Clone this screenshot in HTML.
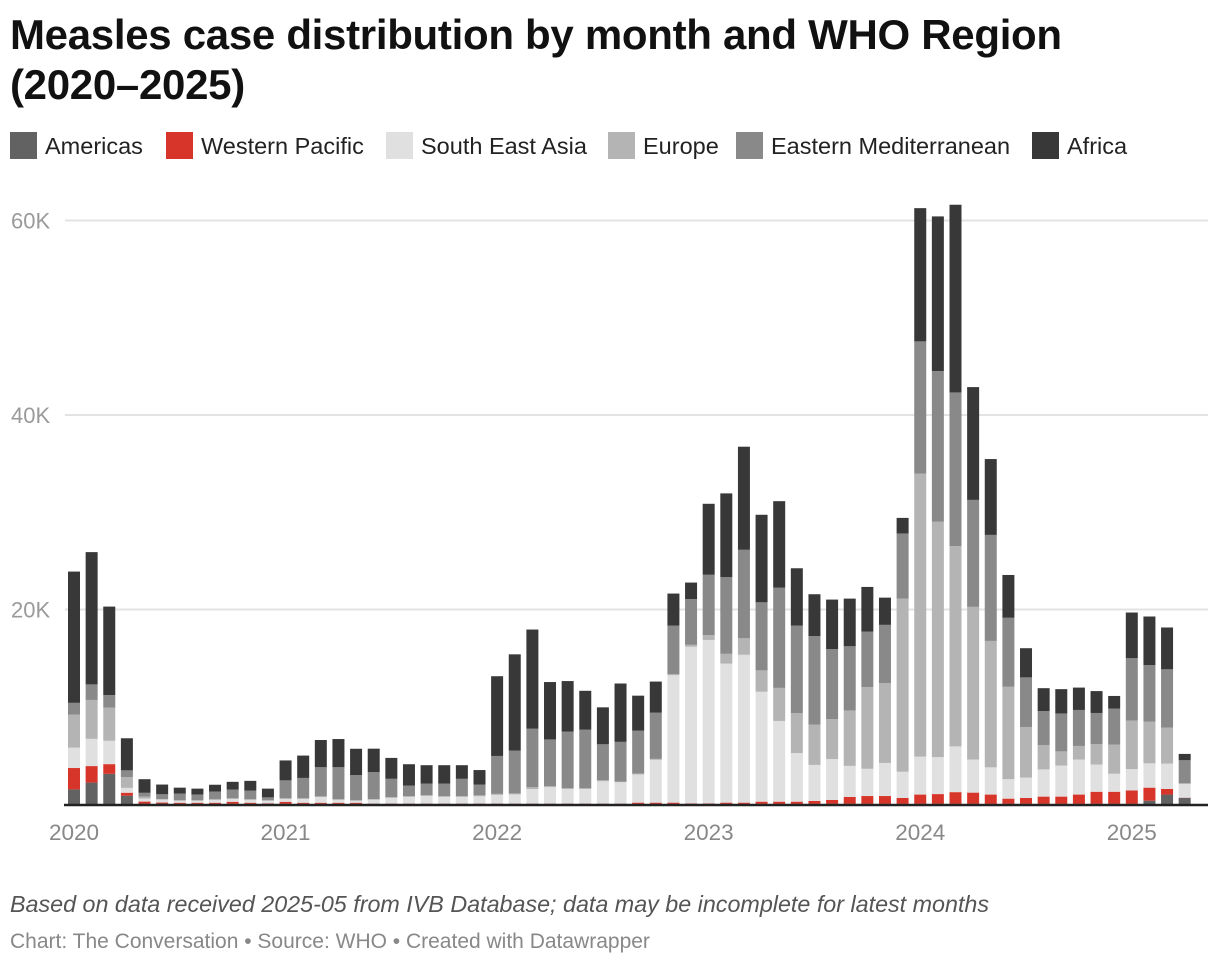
<!DOCTYPE html>
<html><head><meta charset="utf-8"><style>
body{margin:0;background:#fff;font-family:"Liberation Sans",sans-serif;width:1220px;height:966px;overflow:hidden;position:relative}
h1{position:absolute;left:10px;top:10px;margin:0;font-size:42px;line-height:50px;font-weight:bold;color:#111;width:1210px;letter-spacing:-0.3px;white-space:nowrap}
.legend{position:absolute;top:133px;left:10px;height:30px;font-size:23.5px;color:#222}
.li{position:absolute;top:0;white-space:nowrap}
.sw{display:inline-block;width:27px;height:27px;vertical-align:middle;margin-right:8px;position:relative;top:-2px}
.note{position:absolute;left:10px;top:891px;font-size:23.3px;font-style:italic;color:#555}
.cred{position:absolute;left:10px;top:930px;font-size:21px;color:#888}
svg{position:absolute;left:0;top:0}
</style></head><body>
<h1>Measles case distribution by month and WHO Region<br>(2020–2025)</h1>
<div class="legend">
<span class="li" style="left:0"><span class="sw" style="background:#626262"></span>Americas</span>
<span class="li" style="left:156px"><span class="sw" style="background:#d8352a"></span>Western Pacific</span>
<span class="li" style="left:376px"><span class="sw" style="background:#e0e0e0"></span>South East Asia</span>
<span class="li" style="left:598px"><span class="sw" style="background:#b4b4b4"></span>Europe</span>
<span class="li" style="left:726px"><span class="sw" style="background:#898989"></span>Eastern Mediterranean</span>
<span class="li" style="left:1022px"><span class="sw" style="background:#383838"></span>Africa</span>
</div>
<svg id="chart" width="1220" height="966"></svg>
<div class="note">Based on data received 2025-05 from IVB Database; data may be incomplete for latest months</div>
<div class="cred">Chart: The Conversation • Source: WHO • Created with Datawrapper</div>
<script>
const yTicks=[0,20,40,60];
const yTickLabels=["","20K","40K","60K"];
const xLabels=["2020","2021","2022","2023","2024","2025"];
const seriesNames=["Americas","Western Pacific","South East Asia","Europe","Eastern Mediterranean","Africa"];
const americas=[1.5,2.2,3.1,0.86,0.05,0.05,0.03,0.03,0.03,0.03,0.03,0.03, .03,.03,.03,.03,.03,.02,.02,.02,.02,.02,.02,.02, .02,.02,.02,.02,.02,.02,.02,.02,.02,.02,.02,.02, .02,.02,.02,.02,.02,.02,.02,.02,.02,.02,.02,.02, .02,.02,.02,.02,.02,.02,.02,.02,.02,.02,.02,.02, .02,.34,.97,.63];
const westernPacific=[2.2,1.7,1.0,0.3,0.2,0.1,0.1,0.1,0.1,0.2,0.1,0.05, .2,.1,.1,.1,.1,.02,.02,.02,.02,.02,.02,.02, .02,.02,.02,.02,.02,.02,.02,.02,.12,.12,.12,.05, .05,.12,.12,.22,.22,.22,.3,.4,.7,.8,.8,.6, .95,1.0,1.2,1.15,.95,.53,.6,.74,.74,.95,1.24,1.24, 1.37,1.34,.58,.02];
const southEastAsia=[2.1,2.8,2.4,0.5,0.3,0.3,0.2,0.2,0.3,0.3,0.3,0.25, .3,.4,.6,.3,.2,.4,.6,.7,.8,.7,.7,.75, .9,.95,1.5,1.7,1.5,1.5,2.3,2.2,2.9,4.4,13.1,16.1, 16.8,14.3,15.2,11.3,8.3,5.0,3.7,4.2,3.2,2.8,3.4,2.7, 3.9,3.8,4.7,3.4,2.8,2.0,2.1,2.8,3.2,3.6,2.8,1.85, 2.2,2.5,2.6,1.4];
const europe=[3.4,4.0,3.4,1.1,0.2,0.05,0.05,0.05,0.05,0.05,0.05,0.05, .05,.05,.05,.05,.05,.05,.05,.05,.05,.05,.05,.1, .1,.1,.2,.1,.1,.1,.1,.05,.1,.1,.1,.2, .5,1.0,1.7,2.2,3.4,4.1,4.15,4.1,5.7,8.4,8.2,17.8, 29.1,24.2,20.6,15.7,13.0,9.5,5.2,2.5,1.45,1.4,2.1,3.0, 5.0,4.3,3.7,0.1];
const easternMed=[1.2,1.6,1.3,0.7,0.4,0.5,0.7,0.6,0.8,0.9,0.9,0.3, 1.85,2.1,3.0,3.3,2.6,2.8,1.9,1.1,1.2,1.3,1.8,1.1, 3.9,4.4,6.0,4.8,5.8,6.0,3.7,4.1,4.4,4.75,5.0,4.7, 6.2,7.9,9.1,7.0,10.3,9.0,9.1,7.2,6.6,5.7,6.0,6.7, 13.6,15.5,15.8,11.0,10.9,7.1,5.1,3.5,3.9,3.7,3.2,3.7, 6.4,5.8,6.0,2.35];
const africa=[13.5,13.6,9.1,3.3,1.4,1.0,0.6,0.6,0.7,0.8,1.0,0.9, 2.05,2.3,2.8,2.9,2.7,2.4,2.15,2.2,1.9,1.9,1.4,1.5, 8.2,9.9,10.2,5.9,5.2,4.0,3.8,6.0,3.6,3.2,3.3,1.7, 7.3,8.6,10.6,9.0,8.9,5.9,4.3,5.1,4.9,4.6,2.8,1.6, 13.7,15.9,19.3,11.6,7.8,4.4,3.0,2.35,2.5,2.3,2.25,1.3, 4.7,5.0,4.3,0.65];
const series=[americas,westernPacific,southEastAsia,europe,easternMed,africa];
const colors=["#626262","#d8352a","#e0e0e0","#b4b4b4","#898989","#383838"];
const svg=document.getElementById('chart');
const NS="http://www.w3.org/2000/svg";
const X0=74, STEP=17.63, BW=12, Y0=804, PXK=9.725;
const xPos=i=>X0+i*STEP;
const yPos=v=>Y0-v*PXK;
function mk(t,a){const e=document.createElementNS(NS,t);for(const k in a)e.setAttribute(k,a[k]);svg.appendChild(e);return e;}
yTicks.forEach((t,i)=>{
  if(t>0){const l=mk('line',{x1:65,x2:1208,y1:yPos(t),y2:yPos(t),stroke:'#e3e3e3','stroke-width':2});
  
  
  const tx=mk('text',{x:11,y:yPos(t)+8,'font-size':22,fill:'#9a9a9a','font-family':'Liberation Sans, sans-serif'});tx.textContent=yTickLabels[i];
  
  }
});
const n=americas.length;
for(let i=0;i<n;i++){
  let cum=0;
  series.forEach((s,k)=>{
    const v=s[i];
    const r=mk('rect',{x:xPos(i)-BW/2,y:yPos(cum+v),width:BW,height:Math.max(0,v*PXK),fill:colors[k]});
    
    
    cum+=v;
  });
}
const base=mk('line',{x1:64,x2:1208,y1:Y0+1,y2:Y0+1,stroke:'#222','stroke-width':2.5});


xLabels.forEach((l,j)=>{
  const t=mk('text',{x:xPos(j*12),y:840,'text-anchor':'middle','font-size':22.5,fill:'#888','font-family':'Liberation Sans, sans-serif'});t.textContent=l;
  
  
});
</script>
</body></html>
